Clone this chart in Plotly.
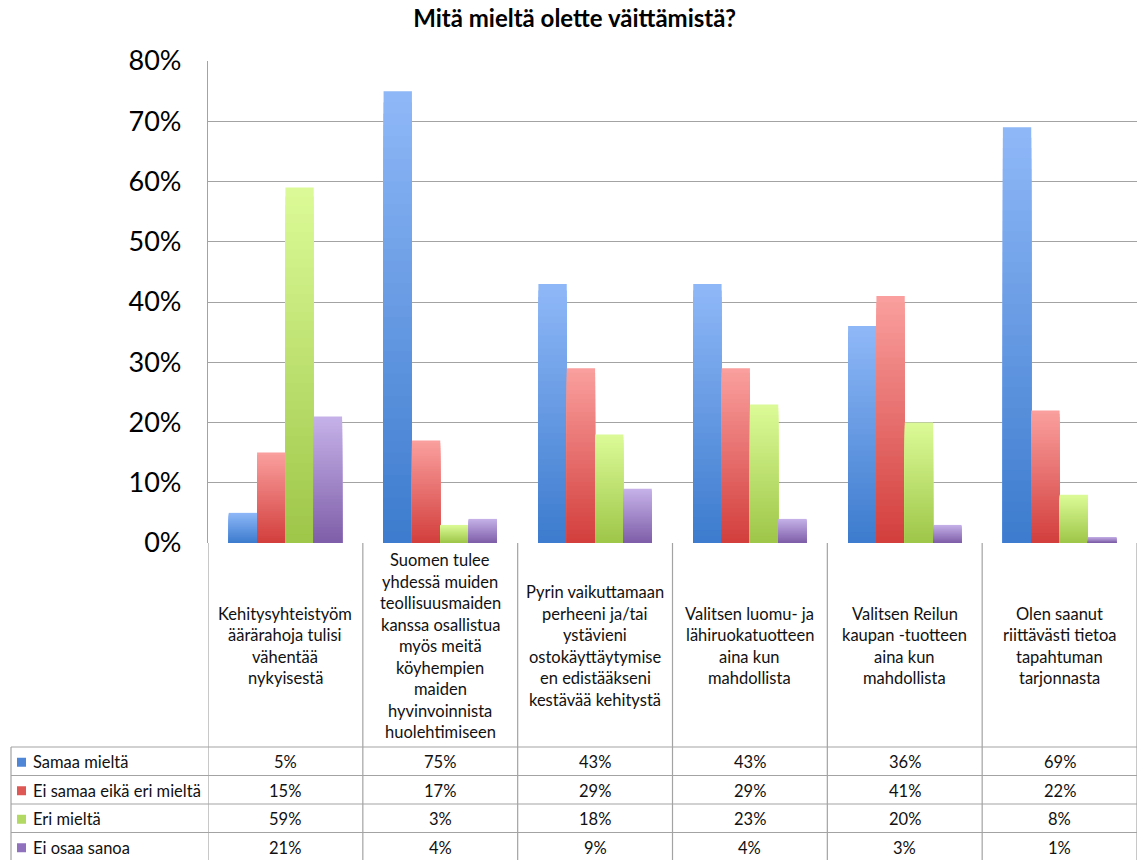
import plotly.graph_objects as go

# ---- data -------------------------------------------------------------
statements = [
    "Kehitysyhteistyöm<br>äärärahoja tulisi<br>vähentää<br>nykyisestä",
    "Suomen tulee<br>yhdessä muiden<br>teollisuusmaiden<br>kanssa osallistua<br>myös meitä<br>köyhempien<br>maiden<br>hyvinvoinnista<br>huolehtimiseen",
    "Pyrin vaikuttamaan<br>perheeni ja/tai<br>ystävieni<br>ostokäyttäytymise<br>en edistääkseni<br>kestävää kehitystä",
    "Valitsen luomu- ja<br>lähiruokatuotteen<br>aina kun<br>mahdollista",
    "Valitsen Reilun<br>kaupan -tuotteen<br>aina kun<br>mahdollista",
    "Olen saanut<br>riittävästi tietoa<br>tapahtuman<br>tarjonnasta",
]
series_names = ["Samaa mieltä", "Ei samaa eikä eri mieltä", "Eri mieltä", "Ei osaa sanoa"]
samaa = [0.05, 0.75, 0.43, 0.43, 0.36, 0.69]
ei_samaa_eika_eri = [0.15, 0.17, 0.29, 0.29, 0.41, 0.22]
eri = [0.59, 0.03, 0.18, 0.23, 0.20, 0.08]
ei_osaa = [0.21, 0.04, 0.09, 0.04, 0.03, 0.01]
series_values = [samaa, ei_samaa_eika_eri, eri, ei_osaa]

# gradient (top colour, bottom colour) and table swatch colour per series
gradients = [
    ((143, 184, 248), (60, 123, 205)),
    ((250, 160, 158), (210, 62, 60)),
    ((220, 251, 152), (158, 198, 72)),
    ((198, 178, 233), (126, 94, 168)),
]
swatches = ["#4f86d6", "#de5855", "#b2d964", "#9071be"]

# ---- geometry (pixels of the 1140x860 page) ---------------------------
W, H = 1140, 860
PLOT_L, PLOT_R = 208, 1137
PLOT_T, PLOT_B = 61, 543
LABEL_MID = 646
LABEL_LINE = 21.5
TABLE_TOP = 747
ROW_H = 28.5
TABLE_L = 11


def px_x(x):
    return x / W


def px_y(y):
    return 1 - y / H


def mix(c1, c2, t):
    return "rgb(%d,%d,%d)" % tuple(round(a + (b - a) * t) for a, b in zip(c1, c2))


fig = go.Figure()

n_cat = len(statements)
xs = list(range(n_cat))
bar_w = 0.183
group_w = bar_w * len(series_values)
layers = 40

# Each bar is drawn as a stack of overlaid, progressively shorter bars so the
# fill runs from a light tone at the top to a deeper tone at the base.
for s, vals in enumerate(series_values):
    top_c, bot_c = gradients[s]
    offset = -group_w / 2 + s * bar_w
    for j in range(layers):
        frac = 1 - j / layers
        t = (j + 0.5) / layers
        fig.add_trace(go.Bar(
            x=xs,
            y=[v * frac for v in vals],
            width=bar_w,
            offset=offset,
            marker=dict(color=mix(top_c, bot_c, t), line=dict(width=0)),
            name=series_names[s],
            showlegend=False,
            hoverinfo="skip" if j else "y+name",
        ))

font_family = "Lato, 'Open Sans', sans-serif"
text_col = "#111111"
line_col = "#a3a3a3"
body_size = 16.5

shapes = []
annotations = []

# category separators below the plot area
for k in range(n_cat + 1):
    shapes.append(dict(type="line", xref="x", yref="paper",
                       x0=k - 0.5, x1=k - 0.5, y0=px_y(PLOT_B), y1=px_y(H + 2),
                       line=dict(color=line_col, width=1.2)))

# table row lines and left border
for r in range(len(series_names) + 1):
    y = TABLE_TOP + r * ROW_H
    shapes.append(dict(type="line", xref="paper", yref="paper",
                       x0=px_x(TABLE_L), x1=px_x(PLOT_R), y0=px_y(y), y1=px_y(y),
                       line=dict(color=line_col, width=1.2)))
shapes.append(dict(type="line", xref="paper", yref="paper",
                   x0=px_x(TABLE_L), x1=px_x(TABLE_L), y0=px_y(TABLE_TOP), y1=px_y(H + 2),
                   line=dict(color=line_col, width=1.2)))

# statement labels, one annotation per line for even line spacing
for i, txt in enumerate(statements):
    lines = txt.split("<br>")
    n = len(lines)
    for k, line in enumerate(lines):
        cy = LABEL_MID + (k - (n - 1) / 2) * LABEL_LINE
        annotations.append(dict(x=i, y=px_y(cy), xref="x", yref="paper",
                                text=line, showarrow=False, align="center",
                                xanchor="center", yanchor="middle",
                                font=dict(family=font_family, size=body_size, color=text_col)))

# data table rows
for r, name in enumerate(series_names):
    cy = TABLE_TOP + r * ROW_H + ROW_H / 2 + 1
    shapes.append(dict(type="rect", xref="paper", yref="paper",
                       x0=px_x(17), x1=px_x(26), y0=px_y(cy + 4.5), y1=px_y(cy - 4.5),
                       fillcolor=swatches[r], line=dict(width=0)))
    annotations.append(dict(x=px_x(31), y=px_y(cy), xref="paper", yref="paper",
                            text=name, showarrow=False, xanchor="left", yanchor="middle",
                            font=dict(family=font_family, size=body_size, color=text_col)))
    for i, v in enumerate(series_values[r]):
        annotations.append(dict(x=i, y=px_y(cy), xref="x", yref="paper",
                                text="%d%%" % round(v * 100), showarrow=False,
                                xanchor="center", yanchor="middle",
                                font=dict(family=font_family, size=body_size, color=text_col)))

fig.update_layout(
    width=W, height=H,
    margin=dict(l=0, r=0, t=0, b=0),
    paper_bgcolor="white", plot_bgcolor="white",
    barmode="overlay",
    title=dict(text="<b>Mitä mieltä olette väittämistä?</b>",
               x=0.504, xanchor="center", y=px_y(19), yanchor="middle",
               font=dict(family=font_family, size=24, color="#000")),
    xaxis=dict(domain=[px_x(PLOT_L), px_x(PLOT_R)], range=[-0.5, n_cat - 0.5],
               showticklabels=False, showgrid=False, zeroline=False, showline=False,
               automargin=False, fixedrange=True),
    yaxis=dict(domain=[px_y(PLOT_B), px_y(PLOT_T)], range=[0, 0.8],
               dtick=0.1, tickformat=".0%", showgrid=True, gridcolor=line_col,
               gridwidth=1.2, zeroline=False, showline=True, linecolor=line_col,
               linewidth=1.2, ticks="", ticklabelstandoff=20,
               tickfont=dict(family=font_family, size=27, color="#000"),
               automargin=False, fixedrange=True),
    shapes=shapes,
    annotations=annotations,
    showlegend=False,
)

fig.write_html("out.html")
